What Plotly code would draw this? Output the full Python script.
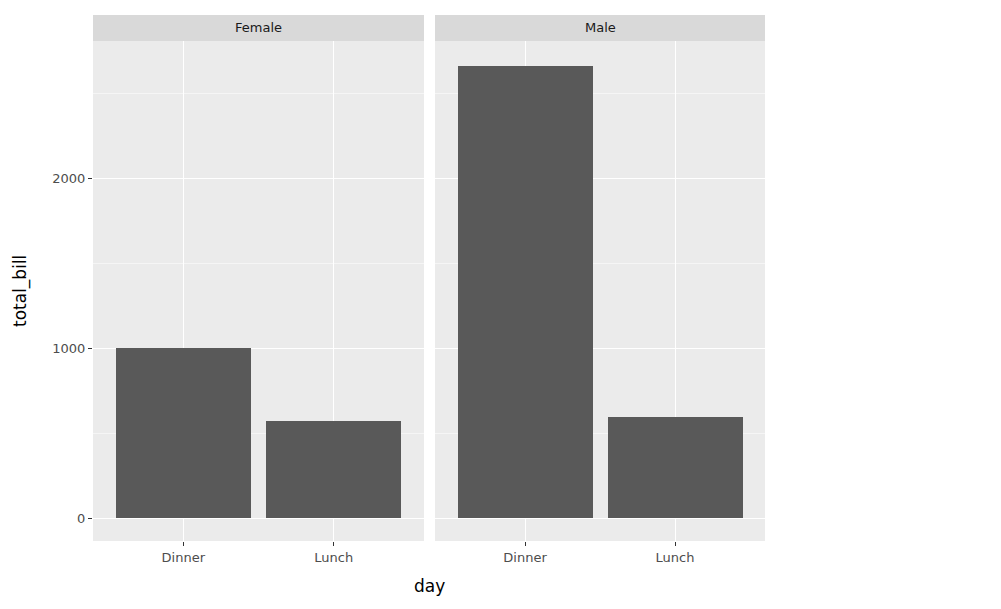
import plotly.graph_objects as go

# total_bill summed by sex and time (tips data)
sexes = ["Female", "Male"]
times = ["Dinner", "Lunch"]
female_bill = [999.08, 571.87]
male_bill = [2661.22, 595.60]
y_ticks = [0, 1000, 2000]

W, H = 1001, 609
OFF = 8  # page body margin shifts the figure
panels = [(93 - OFF, 424 - OFF), (435 - OFF, 765 - OFF)]
top, bottom = 41 - OFF, 541 - OFF
strip_top = 15 - OFF

fig = go.Figure()
for i, (vals, (x0, x1)) in enumerate(zip([female_bill, male_bill], panels)):
    ax = "" if i == 0 else str(i + 1)
    fig.add_trace(go.Bar(x=times, y=vals, width=0.9, marker_color="#595959",
                         marker_line_width=0, xaxis="x" + ax, yaxis="y" + ax,
                         showlegend=False))
    xa = dict(domain=[x0 / W, x1 / W], range=[-0.6, 1.6], showgrid=True,
              gridcolor="white", gridwidth=1.3, ticks="outside", ticklen=4,
              tickcolor="#333", tickfont=dict(color="#4d4d4d", size=13),
              zeroline=False, anchor="y" + ax)
    ya = dict(domain=[(H - bottom) / H, (H - top) / H], range=[-135, 2806],
              tickvals=y_ticks, showgrid=True, gridcolor="white", gridwidth=1.3,
              minor=dict(dtick=500, tick0=500, gridcolor="#f5f5f5", gridwidth=0.8, showgrid=True),
              zeroline=False, anchor="x" + ax,
              ticks="outside" if i == 0 else "", ticklen=4, tickcolor="#333",
              showticklabels=(i == 0), tickfont=dict(color="#4d4d4d", size=13))
    if i > 0:
        ya["matches"] = "y"
    fig.update_layout(**{"xaxis" + ax: xa, "yaxis" + ax: ya})
    fig.add_shape(type="rect", xref="paper", yref="paper", x0=x0 / W, x1=x1 / W,
                  y0=(H - bottom) / H, y1=(H - top) / H, fillcolor="#EBEBEB",
                  line_width=0, layer="below")
    fig.add_shape(type="rect", xref="paper", yref="paper", x0=x0 / W, x1=x1 / W,
                  y0=(H - top) / H, y1=(H - strip_top) / H, fillcolor="#D9D9D9",
                  line_width=0)
    fig.add_annotation(x=(x0 + x1) / 2 / W, y=(H - (top + strip_top) / 2) / H,
                       xref="paper", yref="paper", text=sexes[i], showarrow=False,
                       xanchor="center", yanchor="middle",
                       font=dict(size=13, color="#1a1a1a"))

fig.add_annotation(x=(93 + 765 - 2 * OFF) / 2 / W, y=(H - 586 + OFF) / H,
                   xref="paper", yref="paper", text="day", showarrow=False,
                   xanchor="center", yanchor="middle",
                   font=dict(size=17, color="black"))
fig.add_annotation(x=(20 - OFF) / W, y=(H - 291 + OFF) / H, xref="paper", yref="paper",
                   text="total_bill", textangle=-90, showarrow=False,
                   xanchor="center", yanchor="middle",
                   font=dict(size=17, color="black"))

fig.update_layout(width=W, height=H, margin=dict(l=0, r=0, t=0, b=0),
                  plot_bgcolor="rgba(0,0,0,0)", paper_bgcolor="white",
                  font=dict(family="DejaVu Sans"), bargap=0)
fig.write_html("out.html")
